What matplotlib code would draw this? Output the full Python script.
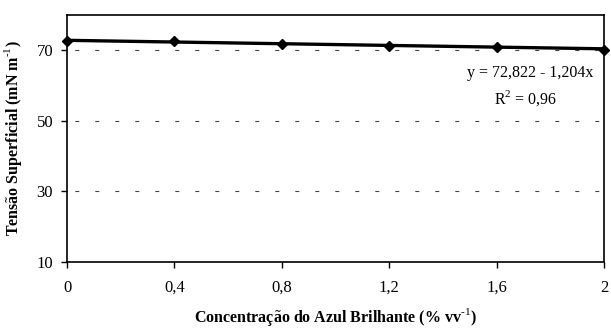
import matplotlib
matplotlib.use("Agg")
import matplotlib.pyplot as plt
import numpy as np

plt.rcParams['font.family'] = ['Liberation Serif', 'DejaVu Serif']
plt.rcParams['mathtext.fontset'] = 'custom'
plt.rcParams['mathtext.rm'] = 'Liberation Serif'
plt.rcParams['mathtext.bf'] = 'Liberation Serif:bold'

# data
conc = [0, 0.4, 0.8, 1.2, 1.6, 2.0]
tension = [72.6, 72.7, 71.8, 71.2, 71.0, 70.2]
x_ticks = [0, 0.4, 0.8, 1.2, 1.6, 2]
x_labels = ['0', '0,4', '0,8', '1,2', '1,6', '2']
y_ticks = [10, 30, 50, 70]
intercept, slope = 72.822, -1.204

fig = plt.figure(figsize=(6.11, 3.31), dpi=100)
ax = fig.add_axes([0.1097, 0.2085, 0.8788, 0.7462])

xs = np.array([0, 2])
ax.plot(xs, intercept + slope * xs, color='black', lw=2.4, zorder=3, clip_on=False)
ax.plot(conc, tension, linestyle='none', marker='D', ms=5, color='black',
        zorder=4, clip_on=False)

ax.set_xlim(0, 2)
ax.set_ylim(10, 80)
ax.set_xticks(x_ticks)
ax.set_xticklabels(x_labels)
ax.set_yticks(y_ticks)
for yv in [30, 50, 70]:
    ax.axhline(yv, color='#444444', lw=0.8, ls=(11, (3.6, 14.4)), zorder=1)

ax.tick_params(axis='both', labelsize=12, direction='out', length=4, width=1)
ax.tick_params(axis='x', pad=9)
ax.tick_params(axis='y', pad=6)
for sp in ax.spines.values():
    sp.set_linewidth(1.2)

ax.text(0.98, 0.765, 'y = 72,822 - 1,204x', transform=ax.transAxes,
        ha='right', va='center', fontsize=11.5)
ax.text(0.913, 0.664, r'R$^{\text{2}}$ = 0,96', transform=ax.transAxes,
        ha='right', va='center', fontsize=11.5)

ax.set_xlabel(r'Concentração do Azul Brilhante (% vv$^{\text{-1}}$)',
              fontsize=11.5, fontweight='bold', labelpad=7)
ax.set_ylabel(r'Tensão Superficial (mN m$^{\text{-1}}$)',
              fontsize=11.5, fontweight='bold', labelpad=9)

fig.savefig('out.png', dpi=100)
